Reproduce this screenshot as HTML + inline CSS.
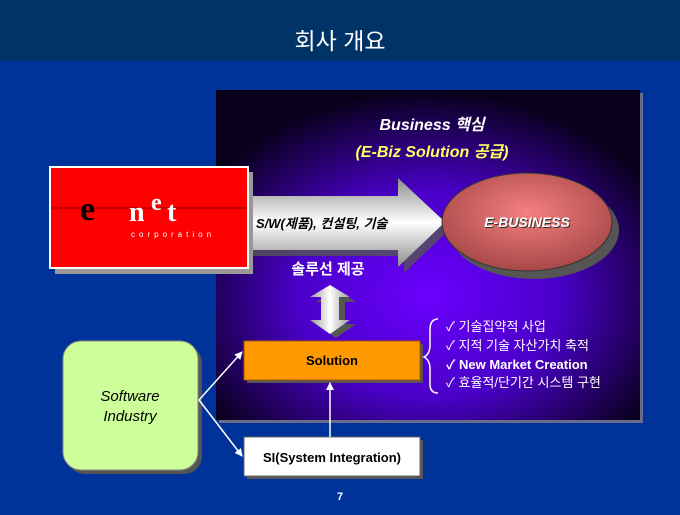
<!DOCTYPE html>
<html><head><meta charset="utf-8"><style>
body{margin:0;width:680px;height:510px;overflow:hidden;background:#003399;font-family:"Liberation Sans","Noto Sans CJK KR",sans-serif}
</style></head><body>
<svg width="680" height="510" viewBox="0 0 680 510" xmlns="http://www.w3.org/2000/svg" font-family="Liberation Sans, Noto Sans CJK KR, sans-serif">
<defs>
<radialGradient id="pg" cx="0.5" cy="0.62" r="0.62">
<stop offset="0" stop-color="#6a00ff"/><stop offset="0.5" stop-color="#4a00c8"/><stop offset="1" stop-color="#08001a"/></radialGradient>
<linearGradient id="ag" x1="0" y1="0" x2="0" y2="1">
<stop offset="0" stop-color="#8c8c8c"/><stop offset="0.5" stop-color="#ffffff"/><stop offset="1" stop-color="#8c8c8c"/></linearGradient>
<radialGradient id="eg" cx="0.5" cy="0.4" r="0.6">
<stop offset="0" stop-color="#f58080"/><stop offset="1" stop-color="#a84848"/></radialGradient>
<linearGradient id="dg" x1="0" y1="0" x2="1" y2="0">
<stop offset="0" stop-color="#9a9a9a"/><stop offset="0.5" stop-color="#ffffff"/><stop offset="1" stop-color="#9a9a9a"/></linearGradient>
<marker id="m" markerWidth="8" markerHeight="8" refX="7" refY="4" orient="auto" markerUnits="userSpaceOnUse"><path d="M0,0 L8,4 L0,8 z" fill="#fff"/></marker>
</defs>
<rect x="0" y="0" width="680" height="61" fill="#003366"/>
<text x="340" y="49" font-size="23" fill="#fff" text-anchor="middle">회사 개요</text>
<rect x="219" y="93" width="424" height="330" fill="#6a6a8a"/>
<rect x="216" y="90" width="424" height="330" fill="url(#pg)"/>
<text x="432" y="130" font-size="16" font-weight="bold" font-style="italic" fill="#fff" text-anchor="middle">Business 핵심</text>
<text x="432" y="157" font-size="16" font-weight="bold" font-style="italic" fill="#ffff66" text-anchor="middle">(E-Biz Solution 공급)</text>
<path d="M250,202 L404,202 L404,184 L451,228 L404,273 L404,256 L250,256 z" fill="#555" opacity="0.8"/>
<path d="M246,196 L398,196 L398,178 L445,222 L398,267 L398,250 L246,250 z" fill="url(#ag)"/>
<text x="256" y="228" font-size="13" font-weight="bold" font-style="italic" fill="#000">S/W(제품), 컨설팅, 기술</text>
<ellipse cx="534" cy="230" rx="85" ry="49" fill="#555"/>
<ellipse cx="527" cy="222" rx="85" ry="49" fill="url(#eg)" stroke="#333"/>
<text x="528" y="228" font-size="14" font-weight="bold" font-style="italic" fill="#333" text-anchor="middle">E-BUSINESS</text>
<text x="527" y="227" font-size="14" font-weight="bold" font-style="italic" fill="#fff" text-anchor="middle">E-BUSINESS</text>
<rect x="55" y="172" width="198" height="102" fill="#999"/>
<rect x="50" y="167" width="198" height="101" fill="#ff0000" stroke="#fff" stroke-width="2"/>
<line x1="52" y1="208" x2="247" y2="208" stroke="#800" stroke-width="1"/>
<text x="80" y="220" font-family="Liberation Serif,serif" font-size="34" fill="#000" font-weight="bold">e</text>
<text x="129" y="221" font-family="Liberation Serif,serif" font-size="28" fill="#fff" font-weight="bold">n</text>
<text x="151" y="210" font-family="Liberation Serif,serif" font-size="24" fill="#fff" font-weight="bold">e</text>
<text x="167" y="221" font-family="Liberation Serif,serif" font-size="28" fill="#fff" font-weight="bold">t</text>
<text x="131" y="237" font-size="8" fill="#fff" letter-spacing="4">corporation</text>
<text x="328" y="274" font-size="15" font-weight="bold" fill="#fff" text-anchor="middle">솔루선 제공</text>
<path d="M333,288 L353,300 L342,300 L342,322 L353,322 L333,336 L313,322 L324,322 L324,300 L313,300 z" fill="#555" transform="translate(3,2)"/>
<path d="M330,285 L350,297 L339,297 L339,320 L350,320 L330,334 L310,320 L321,320 L321,297 L310,297 z" fill="url(#dg)"/>
<rect x="247" y="344" width="176" height="39" fill="#555"/>
<rect x="244" y="341" width="176" height="39" fill="#ff9900" stroke="#aa5500"/>
<text x="332" y="365" font-size="13" font-weight="bold" fill="#000" text-anchor="middle">Solution</text>
<path d="M438,319 Q430,319 430,330 L430,345 Q430,354 424,357 Q430,360 430,369 L430,384 Q430,393 438,393" fill="none" stroke="#fff" stroke-width="1.5"/>
<g font-size="13" fill="#fff">
<text x="446" y="331">✓ 기술집약적 사업</text>
<text x="446" y="350">✓ 지적 기술 자산가치 축적</text>
<text x="446" y="369" font-weight="bold">✓ New Market Creation</text>
<text x="446" y="387">✓ 효율적/단기간 시스템 구현</text>
</g>
<rect x="67" y="345" width="135" height="129" rx="18" fill="#555"/>
<rect x="63" y="341" width="135" height="129" rx="18" fill="#ccff99" stroke="#888"/>
<text x="130" y="401" font-size="15" font-style="italic" fill="#000" text-anchor="middle">Software</text>
<text x="130" y="421" font-size="15" font-style="italic" fill="#000" text-anchor="middle">Industry</text>
<rect x="247" y="440" width="176" height="39" fill="#555"/>
<rect x="244" y="437" width="176" height="39" fill="#fff" stroke="#666"/>
<text x="332" y="462" font-size="13" font-weight="bold" fill="#000" text-anchor="middle">SI(System Integration)</text>
<line x1="199" y1="400" x2="242" y2="352" stroke="#fff" stroke-width="1.5" marker-end="url(#m)"/>
<line x1="199" y1="400" x2="242" y2="456" stroke="#fff" stroke-width="1.5" marker-end="url(#m)"/>
<line x1="330" y1="437" x2="330" y2="383" stroke="#fff" stroke-width="1.5" marker-end="url(#m)"/>
<text x="340" y="500" font-size="11" font-weight="bold" fill="#fff" text-anchor="middle">7</text>
</svg>
</body></html>
